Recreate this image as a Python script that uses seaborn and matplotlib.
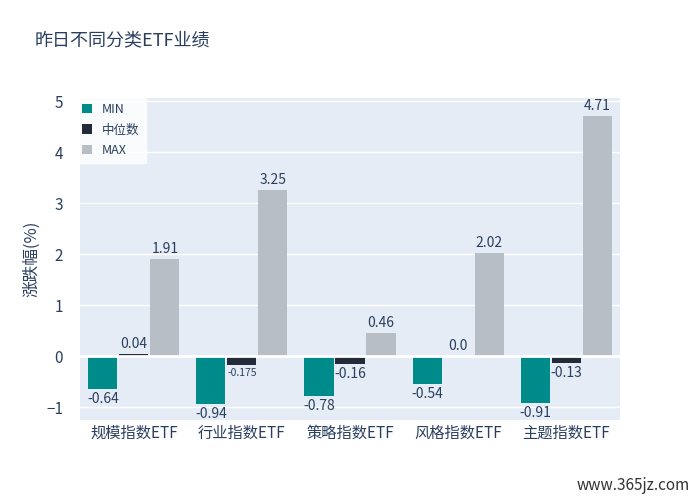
import matplotlib
matplotlib.use("Agg")
import matplotlib.pyplot as plt
import seaborn as sns
import pandas as pd

categories = ["规模指数ETF", "行业指数ETF", "策略指数ETF", "风格指数ETF", "主题指数ETF"]
series_names = ["MIN", "中位数", "MAX"]
min_vals = [-0.64, -0.94, -0.78, -0.54, -0.91]
med_vals = [0.04, -0.175, -0.16, 0.0, -0.13]
max_vals = [1.91, 3.25, 0.46, 2.02, 4.71]
colors = ["#008b8b", "#232b3a", "#b7bec6"]

plt.rcParams["font.family"] = ["Noto Sans CJK SC", "DejaVu Sans"]
txt = "#2a3f5f"
rows = []
for s, vals in zip(series_names, [min_vals, med_vals, max_vals]):
    for c, v in zip(categories, vals):
        rows.append({"cat": c, "series": s, "val": v})
df = pd.DataFrame(rows)

fig = plt.figure(figsize=(7, 5), dpi=100)
ax = fig.add_axes([0.114, 0.16, 0.772, 0.644])
ax.set_facecolor("#e5ecf6")
sns.barplot(data=df, x="cat", y="val", hue="series", palette=colors, width=0.86,
            gap=0.06, ax=ax, legend=True, saturation=1)
ax.set_ylim(-1.25, 5.06)
ax.set_xlim(-0.5, 4.5)
ax.set_yticks(range(-1, 6))
ax.grid(axis="y", color="white", linewidth=1)
ax.axhline(0, color="white", linewidth=2)
ax.set_axisbelow(True)
for sp in ax.spines.values():
    sp.set_visible(False)
ax.tick_params(length=0, colors=txt, labelsize=11)
ax.tick_params(axis="y", pad=12)
ax.set_xlabel("")
ax.set_ylabel("涨跌幅(%)", color=txt, fontsize=12)

for cont, s in zip(ax.containers, series_names):
    for bar, v in zip(cont, df[df.series == s].val):
        x = bar.get_x() + bar.get_width() / 2
        fs = 7.5 if v == -0.175 else 10
        lab = "0.0" if v == 0 else f"{v:g}"
        if v >= 0:
            ax.text(x, v + 0.06, lab, ha="center", va="bottom", fontsize=fs, color=txt)
        else:
            ax.text(x, v - 0.06, lab, ha="center", va="top", fontsize=fs, color=txt)

leg = ax.legend(loc="upper left", bbox_to_anchor=(-0.005, 1.0), frameon=True, fontsize=9,
                handlelength=0.8, handleheight=0.8, labelspacing=0.6, borderaxespad=0)
leg.get_frame().set_facecolor("white")
leg.get_frame().set_edgecolor("white")
leg.get_frame().set_boxstyle("square", pad=0.1)
for t in leg.get_texts():
    t.set_color(txt)

fig.text(0.05, 0.91, "昨日不同分类ETF业绩", fontsize=13, color=txt)
fig.text(0.985, 0.02, "www.365jz.com", fontsize=11, color="#333333", ha="right")
fig.savefig("out.png", dpi=100, facecolor="white")
